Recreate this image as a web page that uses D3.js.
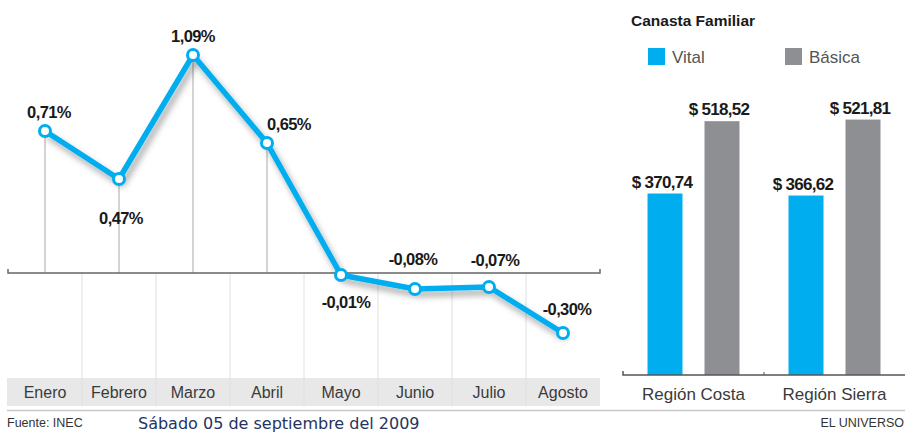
<!DOCTYPE html>
<html>
<head>
<meta charset="utf-8">
<script src="https://cdn.jsdelivr.net/npm/d3@7"></script>
<style>
  body { margin: 0; background: #fff; }
  text { font-family: "Liberation Sans", Arial, sans-serif; }
  .month { font-size: 16px; fill: #3a3a3a; }
  .pct { font-size: 16.5px; font-weight: bold; fill: #1a1a1a; letter-spacing: -0.6px; }
  .money { font-size: 17px; font-weight: bold; fill: #1a1a1a; letter-spacing: -0.7px; }
  .region { font-size: 17px; fill: #3a3a3a; }
  .legend { font-size: 17px; fill: #555; }
  .title { font-size: 15.5px; font-weight: bold; fill: #1a1a1a; }
  .note { font-size: 12.5px; fill: #333; }
  .date { font-family: "DejaVu Sans", sans-serif; font-size: 16px; fill: #24345e; }
</style>
</head>
<body>
<div id="chart"></div>
<script>
// data
const months = ["Enero", "Febrero", "Marzo", "Abril", "Mayo", "Junio", "Julio", "Agosto"];
const inflation = [0.71, 0.47, 1.09, 0.65, -0.01, -0.08, -0.07, -0.30];

const regions = ["Región Costa", "Región Sierra"];
const basketTypes = ["Vital", "Básica"];
const vitalValues = [370.74, 366.62];
const basicaValues = [518.52, 521.81];

// where each % label sits relative to its point
const labelOffsets = [
  {dx: 4, dy: -13}, {dx: 2, dy: 45}, {dx: 0, dy: -13}, {dx: 22, dy: -13},
  {dx: 5, dy: 33}, {dx: -2, dy: -24}, {dx: 6, dy: -21}, {dx: 4, dy: -18}
];

const W = 905, H = 433;
const blue = "#00aeef", grey = "#8e8f92";

const locale = d3.formatLocale({decimal: ",", thousands: ".", grouping: [3], currency: ["$ ", ""], minus: "-"});
const fmtPct = v => locale.format(".2f")(v) + "%";
const fmtMoney = locale.format("$.2f");

const svg = d3.select("#chart")
  .append("svg")
    .attr("width", W)
    .attr("height", H);

const defs = svg.append("defs");
const shadow = defs.append("filter")
    .attr("id", "shadow")
    .attr("x", "-10%").attr("y", "-10%")
    .attr("width", "130%").attr("height", "140%");
shadow.append("feDropShadow")
    .attr("dx", 3).attr("dy", 5)
    .attr("stdDeviation", 3)
    .attr("flood-color", "#000")
    .attr("flood-opacity", 0.35);

// ---------- left: monthly inflation ----------
const xScale = d3.scaleBand()
    .domain(months)
    .range([8, 600]);

const yScale = d3.scaleLinear()
    .domain([-0.5, 1.2])
    .range([373, 33]);

const y0 = yScale(0);
const bandTop = 378, bandBottom = 406;

// month label band
svg.append("rect")
    .attr("x", 7).attr("y", bandTop)
    .attr("width", 593).attr("height", bandBottom - bandTop)
    .attr("fill", "#e8e8e8");

// separators under the zero line
svg.append("g")
  .selectAll("line")
  .data(months.slice(1))
  .join("line")
    .attr("x1", d => xScale(d)).attr("x2", d => xScale(d))
    .attr("y1", y0).attr("y2", bandBottom)
    .attr("stroke", "#e0e0e0")
    .attr("stroke-width", 1);

// month axis
svg.append("g")
    .attr("transform", `translate(0, ${bandTop + 20})`)
    .call(d3.axisBottom(xScale).tickSize(0).tickPadding(0))
    .call(g => g.select(".domain").remove())
    .call(g => g.selectAll("text")
        .attr("class", "month")
        .attr("dy", 0)
        .attr("font-family", null)
        .attr("font-size", null)
        .attr("fill", null));

// drop lines from positive points
const cx = d => xScale(d) + xScale.bandwidth() / 2;
svg.append("g")
  .selectAll("line")
  .data(months.filter((m, i) => inflation[i] > 0))
  .join("line")
    .attr("x1", cx).attr("x2", cx)
    .attr("y1", d => yScale(inflation[months.indexOf(d)]))
    .attr("y2", y0)
    .attr("stroke", "#a8a8a8")
    .attr("stroke-width", 1);

// zero line
svg.append("path")
    .attr("d", `M8,${y0 - 4}V${y0}H600V${y0 - 4}`)
    .attr("fill", "none")
    .attr("stroke", "#666")
    .attr("stroke-width", 1.5);

// line
const line = d3.line()
    .x((d, i) => cx(months[i]))
    .y(d => yScale(d));

svg.append("path")
    .datum(inflation)
    .attr("d", line)
    .attr("fill", "none")
    .attr("stroke", blue)
    .attr("stroke-width", 5.5)
    .attr("stroke-linejoin", "round")
    .attr("filter", "url(#shadow)");

svg.append("g")
  .selectAll("circle")
  .data(inflation)
  .join("circle")
    .attr("cx", (d, i) => cx(months[i]))
    .attr("cy", d => yScale(d))
    .attr("r", 5.5)
    .attr("fill", "#fff")
    .attr("stroke", blue)
    .attr("stroke-width", 3);

svg.append("g")
  .selectAll("text")
  .data(inflation)
  .join("text")
    .attr("class", "pct")
    .attr("x", (d, i) => cx(months[i]) + labelOffsets[i].dx)
    .attr("y", (d, i) => yScale(d) + labelOffsets[i].dy)
    .attr("text-anchor", "middle")
    .text(fmtPct);

// ---------- right: canasta familiar ----------
const gScale = d3.scaleBand()
    .domain(regions)
    .range([623, 905]);

const subScale = d3.scaleBand()
    .domain(basketTypes)
    .range([0, gScale.bandwidth()])
    .paddingInner(0.386)
    .paddingOuter(0.43);

const vScale = d3.scaleLinear()
    .domain([0, 600])
    .range([375, 375 - 600 * 0.4895]);

const bars = [];
regions.forEach((r, i) => {
  bars.push({region: r, type: "Vital", value: vitalValues[i]});
  bars.push({region: r, type: "Básica", value: basicaValues[i]});
});
const color = d3.scaleOrdinal().domain(basketTypes).range([blue, grey]);

svg.append("g")
  .selectAll("rect")
  .data(bars)
  .join("rect")
    .attr("x", d => gScale(d.region) + subScale(d.type))
    .attr("y", d => vScale(d.value))
    .attr("width", subScale.bandwidth())
    .attr("height", d => vScale(0) - vScale(d.value))
    .attr("fill", d => color(d.type));

svg.append("g")
  .selectAll("text")
  .data(bars)
  .join("text")
    .attr("class", "money")
    .attr("x", d => gScale(d.region) + subScale(d.type) + subScale.bandwidth() / 2 - 3)
    .attr("y", d => vScale(d.value) - 6)
    .attr("text-anchor", "middle")
    .text(d => fmtMoney(d.value));

// baseline with small ticks
svg.append("path")
    .attr("d", `M623,371V375H${W}`)
    .attr("fill", "none")
    .attr("stroke", "#555")
    .attr("stroke-width", 1.5);
svg.append("g")
  .selectAll("line")
  .data(regions.slice(1))
  .join("line")
    .attr("x1", d => gScale(d)).attr("x2", d => gScale(d))
    .attr("y1", 372).attr("y2", 375)
    .attr("stroke", "#555");

svg.append("g")
    .attr("transform", "translate(0, 400)")
    .call(d3.axisBottom(gScale).tickSize(0).tickPadding(0))
    .call(g => g.select(".domain").remove())
    .call(g => g.selectAll("text")
        .attr("class", "region")
        .attr("dy", 0)
        .attr("font-family", null)
        .attr("font-size", null)
        .attr("fill", null));

// title + legend
svg.append("text")
    .attr("class", "title")
    .attr("x", 631).attr("y", 26)
    .text("Canasta Familiar");

const legend = svg.append("g")
  .selectAll("g")
  .data(basketTypes)
  .join("g")
    .attr("transform", (d, i) => `translate(${648 + i * 137}, 48)`);
legend.append("rect")
    .attr("width", 17).attr("height", 17)
    .attr("fill", d => color(d));
legend.append("text")
    .attr("class", "legend")
    .attr("x", 24).attr("y", 15)
    .text(d => d);

// ---------- footer ----------
svg.append("line")
    .attr("x1", 7).attr("x2", W)
    .attr("y1", 410.5).attr("y2", 410.5)
    .attr("stroke", "#c8c8c8")
    .attr("stroke-width", 1.5);

svg.append("text")
    .attr("class", "note")
    .attr("x", 7).attr("y", 427)
    .text("Fuente: INEC");

svg.append("text")
    .attr("class", "date")
    .attr("x", 138).attr("y", 429)
    .text("Sábado 05 de septiembre del 2009");

svg.append("text")
    .attr("class", "note")
    .attr("x", 904).attr("y", 427)
    .attr("text-anchor", "end")
    .text("EL UNIVERSO");
</script>
</body>
</html>
